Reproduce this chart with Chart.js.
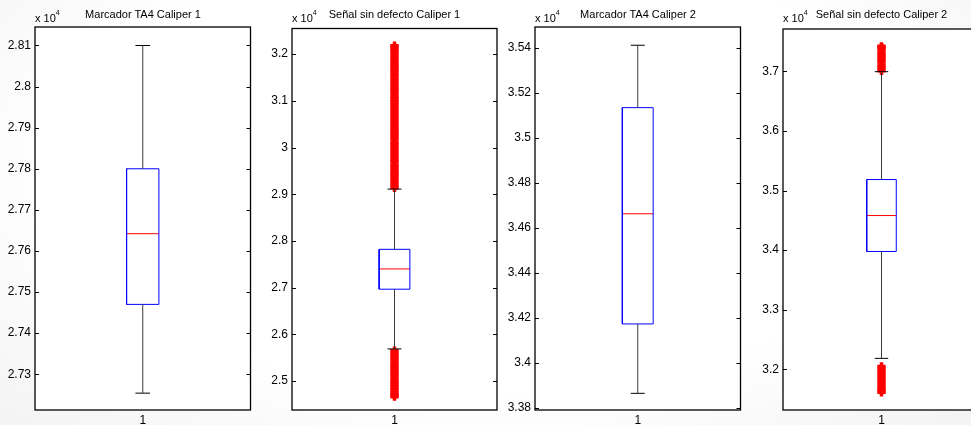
<!DOCTYPE html>
<html>
<head>
<meta charset="utf-8">
<script src="https://cdn.jsdelivr.net/npm/chart.js@4.4.1/dist/chart.umd.min.js"></script>
<style>
  html, body { margin: 0; padding: 0; }
  body {
    width: 971px; height: 425px; overflow: hidden; position: relative;
    background: radial-gradient(ellipse at 50% 40%, #ffffff 62%, #f3f3f3 100%);
    font-family: "Liberation Sans", Arial, sans-serif;
  }
  .plot { position: absolute; top: 0; height: 425px; }
  .plot canvas { display: block; }
  .title { position: absolute; top: 8px; font-size: 11px; line-height: 13px; white-space: nowrap; transform: translateX(-50%); color: #000; }
  .expo { position: absolute; top: 12px; font-size: 11px; line-height: 13px; white-space: nowrap; color: #000; }
  .expo sup { font-size: 7px; position: relative; top: -2px; vertical-align: super; line-height: 0; }
</style>
</head>
<body>
<script>
// --- DATA (raw units; axes show them x 10^4) ---
const categories = ['1'];

const titles = ['Marcador TA4 Caliper 1', 'Señal sin defecto Caliper 1', 'Marcador TA4 Caliper 2', 'Señal sin defecto Caliper 2'];

// [lower whisker, Q1, median, Q3, upper whisker]
const ta4Cal1Stats   = [27254, 27470, 27642, 27800, 28100];
const senalCal1Stats = [25687, 26966, 27400, 27820, 29110];
const ta4Cal2Stats   = [33865, 34173, 34662, 35133, 35410];
const senalCal2Stats = [32184, 33978, 34581, 35185, 36995];

// outliers (the '+' marks, drawn so densely they merge into a red column)
const ta4Cal1Outliers = [];
const senalCal1Outliers = [
  29140, 29195, 29260, 29320, 29385, 29440, 29505, 29565, 29620, 29690, 29745, 29810,
  29870, 29930, 29995, 30055, 30115, 30180, 30240, 30305, 30360, 30425, 30490, 30545,
  30610, 30670, 30735, 30790, 30855, 30915, 30980, 31040, 31095, 31160, 31225, 31280,
  31345, 31405, 31470, 31530, 31590, 31655, 31715, 31775, 31840, 31900, 31960, 32025,
  32085, 32140, 32180,
  25650, 25590, 25530, 25470, 25405, 25345, 25290, 25225, 25165, 25105, 25045, 24985,
  24925, 24865, 24805, 24750, 24700, 24665
];
const ta4Cal2Outliers = [];
const senalCal2Outliers = [
  37010, 37060, 37105, 37160, 37210, 37255, 37305, 37360, 37400, 37420,
  32050, 32000, 31950, 31900, 31845, 31790, 31740, 31690, 31645, 31615
];

// y-axis limits and tick values
const ta4Cal1Range   = [27213, 28145];
const senalCal1Range = [24379, 32549];
const ta4Cal2Range   = [33791, 35491];
const senalCal2Range = [31318, 37711];

const ta4Cal1Ticks   = [27300, 27400, 27500, 27600, 27700, 27800, 27900, 28000, 28100];
const senalCal1Ticks = [25000, 26000, 27000, 28000, 29000, 30000, 31000, 32000];
const ta4Cal2Ticks   = [33800, 34000, 34200, 34400, 34600, 34800, 35000, 35200, 35400];
const senalCal2Ticks = [32000, 33000, 34000, 35000, 36000, 37000];

// --- LAYOUT / STYLE ---
// full axes boxes; the last one runs past the right edge of the picture
const frames = [
  { left: 35,  right: 251, top: 27 },
  { left: 292, right: 497, top: 28.5 },
  { left: 535, right: 741, top: 27 },
  { left: 783, right: 980, top: 29 }
];
const PAGE_W = 971;
const BOTTOM = 410;
const Y_AXIS_W = 35;
const BOX_HALF = 0.075;   // box is 15% of the axes width
const CAP_HALF = 0.034;
const BLUE = '#0000ff', RED = '#ff0000', WHISKER = '#3a3a3a';

Chart.defaults.font.family = '"Liberation Sans", Arial, sans-serif';
Chart.defaults.font.size = 12;
Chart.defaults.color = '#000';

const panels = [
  { title: titles[0], stats: ta4Cal1Stats,   outliers: ta4Cal1Outliers,   range: ta4Cal1Range,   ticks: ta4Cal1Ticks },
  { title: titles[1], stats: senalCal1Stats, outliers: senalCal1Outliers, range: senalCal1Range, ticks: senalCal1Ticks },
  { title: titles[2], stats: ta4Cal2Stats,   outliers: ta4Cal2Outliers,   range: ta4Cal2Range,   ticks: ta4Cal2Ticks },
  { title: titles[3], stats: senalCal2Stats, outliers: senalCal2Outliers, range: senalCal2Range, ticks: senalCal2Ticks }
];

// white axes background, black frame and MATLAB-style inward ticks.
// The frame's right side is x = 1.5, which can sit past the chart area
// (and, for the last panel, past the canvas).
const axesFrame = {
  id: 'axesFrame',
  beforeDraw(chart) {
    const { ctx, chartArea: a, scales } = chart;
    const right = scales.x.getPixelForValue(1.5);
    ctx.save();
    ctx.fillStyle = '#fff';
    ctx.fillRect(a.left, a.top, right - a.left, a.bottom - a.top);
    ctx.restore();
  },
  afterDraw(chart) {
    const { ctx, chartArea: a, scales } = chart;
    const right = scales.x.getPixelForValue(1.5);
    ctx.save();
    ctx.strokeStyle = '#000';
    ctx.lineWidth = 1.3;
    ctx.strokeRect(a.left, a.top, right - a.left, a.bottom - a.top);
    ctx.lineWidth = 1;
    scales.y.ticks.forEach(t => {
      const y = Math.round(scales.y.getPixelForValue(t.value)) + 0.5;
      ctx.beginPath();
      ctx.moveTo(a.left, y); ctx.lineTo(a.left + 4, y);
      ctx.moveTo(right, y); ctx.lineTo(right - 4, y);
      ctx.stroke();
    });
    ctx.restore();
  }
};

function segment(points, color) {
  return {
    data: points, showLine: true, borderColor: color, borderWidth: 1,
    pointRadius: 0, fill: false, tension: 0, borderJoinStyle: 'miter'
  };
}

function boxDatasets(stats, outliers) {
  const [lo, q1, med, q3, hi] = stats;
  const bl = 1 - BOX_HALF, br = 1 + BOX_HALF;
  const cl = 1 - CAP_HALF, cr = 1 + CAP_HALF;
  return [
    segment([{ x: 1, y: q3 }, { x: 1, y: hi }], WHISKER),
    segment([{ x: 1, y: lo }, { x: 1, y: q1 }], WHISKER),
    segment([{ x: cl, y: hi }, { x: cr, y: hi }], '#000'),
    segment([{ x: cl, y: lo }, { x: cr, y: lo }], '#000'),
    segment([{ x: bl, y: q1 }, { x: br, y: q1 }, { x: br, y: q3 }, { x: bl, y: q3 }, { x: bl, y: q1 }], BLUE),
    segment([{ x: bl, y: med }, { x: br, y: med }], RED),
    {
      data: outliers.map(v => ({ x: 1, y: v })),
      pointStyle: 'cross', pointRadius: 4.2, pointBorderWidth: 3.5,
      borderColor: RED, backgroundColor: RED, showLine: false
    }
  ];
}

function fmt(v) {
  return String(parseFloat((v / 1e4).toFixed(4)));
}

panels.forEach((p, i) => {
  const f = frames[i];
  const canvasLeft = f.left - Y_AXIS_W;
  const canvasRight = Math.min(f.right + 2, PAGE_W);
  const canvasW = canvasRight - canvasLeft;

  const box = document.createElement('div');
  box.className = 'plot';
  box.style.left = canvasLeft + 'px';
  box.style.width = canvasW + 'px';
  const canvas = document.createElement('canvas');
  box.appendChild(canvas);
  document.body.appendChild(box);

  const title = document.createElement('div');
  title.className = 'title';
  title.style.left = ((f.left + f.right) / 2) + 'px';
  title.textContent = p.title;
  document.body.appendChild(title);

  const expo = document.createElement('div');
  expo.className = 'expo';
  expo.style.left = f.left + 'px';
  expo.innerHTML = 'x 10<sup>4</sup>';
  document.body.appendChild(expo);

  const chart = new Chart(canvas.getContext('2d'), {
    type: 'scatter',
    data: { datasets: boxDatasets(p.stats, p.outliers) },
    options: {
      responsive: true,
      maintainAspectRatio: false,
      animation: false,
      events: [],
      layout: { padding: { left: 0, right: 0, top: f.top, bottom: 0 } },
      plugins: { legend: { display: false }, tooltip: { enabled: false }, title: { display: false } },
      scales: {
        x: {
          type: 'linear', min: 0.5, max: 1.5,
          afterBuildTicks: s => { s.ticks = [{ value: 1 }]; },
          afterFit: s => { s.height = 425 - BOTTOM; },
          ticks: { callback: () => categories[0], padding: 3, maxRotation: 0 },
          grid: { display: false, drawTicks: false },
          border: { display: false }
        },
        y: {
          min: p.range[0], max: p.range[1],
          afterBuildTicks: s => { s.ticks = p.ticks.map(v => ({ value: v })); },
          afterFit: s => { s.width = Y_AXIS_W; },
          ticks: { callback: v => fmt(v), padding: 4, autoSkip: false },
          grid: { display: false, drawTicks: false },
          border: { display: false }
        }
      }
    },
    plugins: [axesFrame]
  });

  // the x range 0.5..1.5 spans the full axes box; the chart area may be a
  // little narrower than that box, so show only the part of the range that fits
  const a = chart.chartArea;
  chart.options.scales.x.max = 0.5 + (a.right - a.left) / (f.right - f.left);
  chart.update();
});
</script>
</body>
</html>
